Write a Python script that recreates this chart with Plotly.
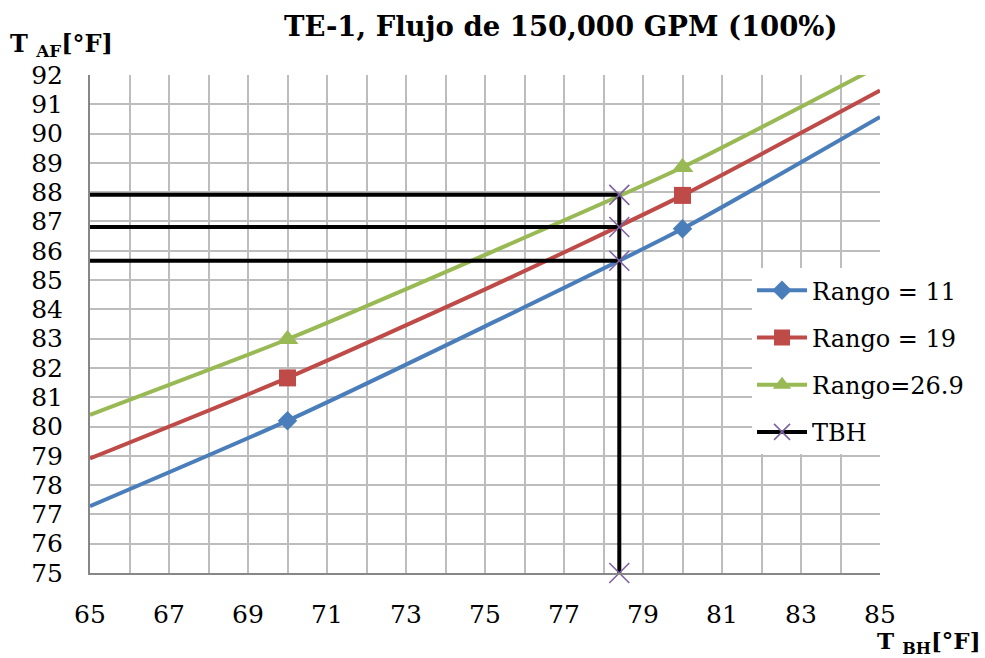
import plotly.graph_objects as go

# Wet-bulb temperature (°F) at which each curve was read
t_bh = [65, 70, 75, 80, 85]

# Cold-water temperature (°F) for each cooling range
rango_11 = [77.28, 80.20, 83.42, 86.75, 90.57]
rango_19 = [78.91, 81.66, 84.68, 87.89, 91.47]
rango_269 = [80.40, 82.98, 85.86, 88.85, 92.32]

# Indices of the points that carry a marker
marker_idx = [1, 3]

# Design wet-bulb temperature and the resulting cold-water temperatures
tbh_design = 78.4
tbh_levels = [85.66, 86.81, 87.91]
y_floor = 75

x_ticks = list(range(65, 86, 2))
y_ticks = list(range(75, 93, 1))

FONT = "DejaVu Serif"

series = [
    ("Rango = 11", rango_11, "#4A7EBB", "diamond", 15),
    ("Rango = 19", rango_19, "#BE4B48", "square", 17),
    ("Rango=26.9", rango_269, "#98B954", "triangle-up", 19),
]

fig = go.Figure()

for name, ys, color, symbol, msize in series:
    fig.add_trace(go.Scatter(
        x=t_bh, y=ys, mode="lines",
        line=dict(color=color, width=4, shape="spline", smoothing=0.6),
        showlegend=False, hoverinfo="skip",
    ))
    fig.add_trace(go.Scatter(
        x=[t_bh[i] for i in marker_idx], y=[ys[i] for i in marker_idx],
        mode="markers",
        marker=dict(color=color, symbol=symbol, size=msize),
        showlegend=False, name=name,
    ))

# TBH guide lines: horizontal reads from the left axis and the vertical drop to the floor
guide_x, guide_y = [], []
for lvl in tbh_levels:
    guide_x += [min(t_bh), tbh_design, None]
    guide_y += [lvl, lvl, None]
guide_x += [tbh_design, tbh_design]
guide_y += [max(tbh_levels), y_floor]

fig.add_trace(go.Scatter(
    x=guide_x, y=guide_y, mode="lines",
    line=dict(color="black", width=4),
    showlegend=False, hoverinfo="skip", cliponaxis=False,
))
fig.add_trace(go.Scatter(
    x=[tbh_design] * (len(tbh_levels) + 1), y=[y_floor] + tbh_levels,
    mode="markers",
    marker=dict(symbol="x-thin", size=20, line=dict(color="#7F62A1", width=1.6)),
    showlegend=False, cliponaxis=False, name="TBH",
))

# Legend entries
for k, (name, ys, color, symbol, msize) in enumerate(series):
    fig.add_trace(go.Scatter(
        x=[None], y=[None], mode="lines+markers", name=name,
        line=dict(color=color, width=4),
        marker=dict(color=color, symbol=symbol, size=msize),
        legendgroup=f"g{k}",
    ))
fig.add_trace(go.Scatter(
    x=[None], y=[None], mode="lines+markers", name="TBH",
    line=dict(color="black", width=4),
    marker=dict(symbol="x-thin", size=20, color="#7F62A1",
                line=dict(color="#7F62A1", width=1.6)),
    legendgroup="g3",
))

grid_color = "#BDBDBD"
axis_color = "#878787"

fig.update_layout(
    width=985, height=658,
    margin=dict(l=90, r=105, t=75, b=85),
    paper_bgcolor="white", plot_bgcolor="white",
    font=dict(family=FONT, size=24, color="black"),
    showlegend=True,
    legend=dict(
        x=0.838, y=0.612, xanchor="left", yanchor="top",
        bgcolor="white", borderwidth=0,
        font=dict(family=FONT, size=24, color="black"),
        traceorder="grouped", tracegroupgap=13,
        itemwidth=50,
    ),
    xaxis=dict(
        range=[65, 85], tickmode="array", tickvals=x_ticks,
        ticktext=[str(v) for v in x_ticks],
        showgrid=True, gridcolor=grid_color, gridwidth=2,
        minor=dict(dtick=1, tick0=65, showgrid=True, gridcolor=grid_color, gridwidth=2),
        showline=True, linecolor=axis_color, linewidth=2,
        ticks="", ticklabelstandoff=18, zeroline=False,
        tickfont=dict(family=FONT, size=25, color="black"),
    ),
    yaxis=dict(
        range=[75, 92], tickmode="array", tickvals=y_ticks,
        ticktext=[str(v) for v in y_ticks],
        showgrid=True, gridcolor=grid_color, gridwidth=2,
        showline=True, linecolor=axis_color, linewidth=2,
        ticks="", ticklabelstandoff=20, zeroline=False,
        tickfont=dict(family=FONT, size=25, color="black"),
    ),
    annotations=[
        dict(text="<b>TE-1, Flujo de 150,000 GPM (100%)</b>",
             xref="paper", yref="paper", x=0.596, y=1.098,
             xanchor="center", yanchor="middle", showarrow=False,
             font=dict(family=FONT, size=27.5, color="black")),
        dict(text="<b>T <sub>AF</sub>[°F]</b>",
             xref="paper", yref="paper", x=-0.104, y=1.060,
             xanchor="left", yanchor="middle", showarrow=False,
             font=dict(family=FONT, size=24, color="black")),
        dict(text="<b>T <sub>BH</sub>[°F]</b>",
             xref="paper", yref="paper", x=1.131, y=-0.140,
             xanchor="right", yanchor="middle", showarrow=False,
             font=dict(family=FONT, size=23, color="black")),
    ],
)

fig.write_html("out.html")
